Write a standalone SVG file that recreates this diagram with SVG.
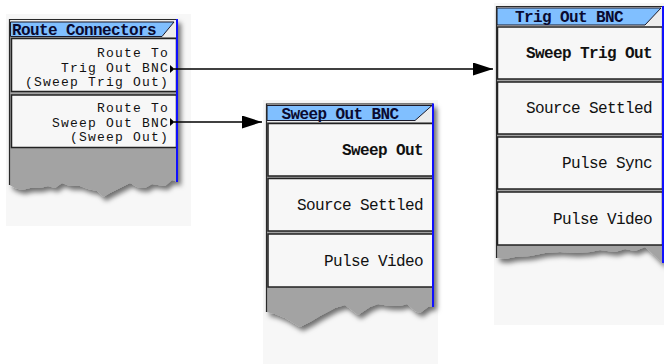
<svg xmlns="http://www.w3.org/2000/svg" width="664" height="364" viewBox="0 0 664 364">
<defs>
<filter id="shd" x="-10%" y="-10%" width="130%" height="130%">
<feDropShadow dx="3" dy="4" stdDeviation="2.5" flood-color="#000" flood-opacity="0.55"/>
</filter>
<marker id="ah" markerUnits="userSpaceOnUse" markerWidth="20" markerHeight="13" refX="20" refY="6.5" orient="auto">
<path d="M0,0 L20,6.5 L0,13 z" fill="#000"/>
</marker>
<style>
.bg{fill:#f7f7f7}
.body{fill:#a3a3a3;stroke:none}
.edge{stroke:#2a2a2a;stroke-width:1.2;fill:none}
.blue{stroke:#1010ff;stroke-width:2;fill:none}
.top{fill:#ececec}
.tab{fill:#80bfff;stroke:#1a1a2a;stroke-width:1}
.btn{fill:#f7f7f7;stroke:#222;stroke-width:1.5}
.t{font-family:"Liberation Mono","DejaVu Sans Mono",monospace;font-size:16px;letter-spacing:-0.6px;fill:#111;text-anchor:end}
.s{font-size:13px;letter-spacing:1.2px}
.b{font-weight:bold}
.ttl{font-family:"Liberation Mono","DejaVu Sans Mono",monospace;font-size:16px;letter-spacing:-0.6px;font-weight:bold;fill:#0a0a30;text-anchor:middle}
.tri{fill:#000}
.conn{stroke:#000;stroke-width:1.6;fill:none;marker-end:url(#ah)}
</style>
</defs>
<rect width="664" height="364" fill="#fff"/>

<g id="route-connectors">
<rect class="bg" x="6" y="14" width="185" height="212"/>
<polygon class="body" filter="url(#shd)" points="9.5,19 178,19 178,182 172,180 165,186 158,185 152,184 145,188 137,187 130,183 120,188 110,193 103,197 97,191 88,189 80,186 70,186 62,183 55,188 48,186 40,188 30,188 22,190 15,188 9.5,185"/>
<rect class="top" x="10" y="20" width="167" height="17"/>
<polygon class="tab" points="10.5,22 174,22 162,36.5 10.5,36.5"/>
<text class="ttl" x="84" y="35">Route Connectors</text>
<rect class="btn" x="11.5" y="38.5" width="165" height="53"/>
<rect class="btn" x="11.5" y="95" width="165" height="52.5"/>
<text class="t s" x="169" y="56.8">Route To</text>
<text class="t s" x="169" y="71.5">Trig Out BNC</text>
<text class="t s" x="169" y="86.2">(Sweep Trig Out)</text>
<text class="t s" x="169" y="111.8">Route To</text>
<text class="t s" x="169" y="126.5">Sweep Out BNC</text>
<text class="t s" x="169" y="141.2">(Sweep Out)</text>
<polygon class="tri" points="170,65 174.5,69 170,73"/>
<polygon class="tri" points="170,118 174.5,122 170,126"/>
<line class="edge" x1="9.5" y1="19" x2="9.5" y2="185"/>
<line class="edge" x1="9.5" y1="19.5" x2="177" y2="19.5"/>
<line class="blue" x1="177" y1="19" x2="177" y2="182"/>
</g>

<g id="sweep-out-bnc">
<rect class="bg" x="263" y="100" width="175" height="264"/>
<polygon class="body" filter="url(#shd)" points="266.5,103.5 434,103.5 434,306 428,307 420,313 415,311 407,304 400,306 390,306 378,304 370,307 358,315 345,305 335,308 320,316 310,322 300,327 285,318 275,314 266.5,312"/>
<rect class="top" x="267" y="104" width="166" height="18"/>
<polygon class="tab" points="267,105.5 432,105.5 415,120.5 267,120.5"/>
<text class="ttl" x="340" y="119">Sweep Out BNC</text>
<rect class="btn" x="268" y="123.5" width="165" height="52.5"/>
<rect class="btn" x="268" y="178.5" width="165" height="52.5"/>
<rect class="btn" x="268" y="234" width="165" height="53"/>
<text class="t b" x="423" y="154.5">Sweep Out</text>
<text class="t" x="423" y="210">Source Settled</text>
<text class="t" x="423" y="265.5">Pulse Video</text>
<line class="edge" x1="266.5" y1="103.5" x2="266.5" y2="312"/>
<line class="edge" x1="266.5" y1="104" x2="433" y2="104"/>
<line class="blue" x1="433" y1="103.5" x2="433" y2="307"/>
</g>

<g id="trig-out-bnc">
<rect class="bg" x="494" y="3" width="170" height="322"/>
<polygon class="body" filter="url(#shd)" points="496.5,6 664,6 664,263 662,263 655,256 645,247 635,251 625,249 615,252 600,250 590,252 575,253 560,252 545,253 530,256 515,257 505,259 496.5,258"/>
<rect class="top" x="497" y="7" width="166" height="20"/>
<polygon class="tab" points="497,8 661,8 645,25 497,25"/>
<text class="ttl" x="569" y="21.5">Trig Out BNC</text>
<rect class="btn" x="497.5" y="27" width="165" height="52"/>
<rect class="btn" x="497.5" y="82" width="165" height="52"/>
<rect class="btn" x="497.5" y="137" width="165" height="52"/>
<rect class="btn" x="497.5" y="192" width="165" height="53"/>
<text class="t b" x="652" y="58">Sweep Trig Out</text>
<text class="t" x="652" y="113">Source Settled</text>
<text class="t" x="652" y="168">Pulse Sync</text>
<text class="t" x="652" y="224">Pulse Video</text>
<line class="edge" x1="496.5" y1="6" x2="496.5" y2="258"/>
<line class="edge" x1="496.5" y1="6.5" x2="663" y2="6.5"/>
<line class="blue" x1="663" y1="6" x2="663" y2="263"/>
</g>

<g id="connectors">
<line class="conn" x1="174" y1="69" x2="493" y2="69"/>
<line class="conn" x1="174" y1="122" x2="262" y2="122"/>
</g>
</svg>
